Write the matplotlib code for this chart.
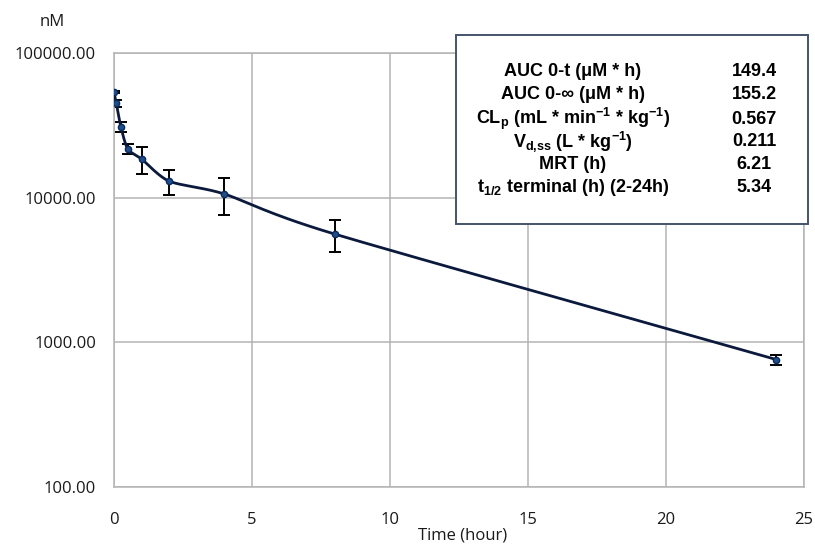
"""PK profile: plasma concentration vs time (log scale) with parameter table."""
import numpy as np
import matplotlib
matplotlib.use("Agg")
import matplotlib.pyplot as plt

# Data
time_h = [0.0, 0.083, 0.25, 0.5, 1.0, 2.0, 4.0, 8.0, 24.0]
conc_nm = [53700, 45000, 30800, 21700, 18500, 13000, 10600, 5600, 760]
conc_sd = [900, 2500, 2300, 1700, 4000, 2500, 3000, 1400, 60]

param_labels = [
    "AUC 0-t (μM * h)",
    "AUC 0-∞ (μM * h)",
    r"CL$_{\mathrm{p}}$ (mL * min$^{\mathrm{-1}}$ * kg$^{\mathrm{-1}}$)",
    r"V$_{\mathrm{d{,}ss}}$ (L * kg$^{\mathrm{-1}}$)",
    "MRT (h)",
    r"t$_{\mathrm{1/2}}$ terminal (h) (2-24h)",
]
param_values = ["149.4", "155.2", "0.567", "0.211", "6.21", "5.34"]

GRID = "#B4B4B4"
LINE = "#0B1A3C"
MARK = "#1F4E8C"
BOX = "#44546A"
INK = "#1A1A1A"

plt.rcParams["mathtext.fontset"] = "custom"
plt.rcParams["mathtext.rm"] = "Liberation Sans:bold"
plt.rcParams["mathtext.default"] = "rm"


def smooth_curve(x, y, ax_w, ax_h, n=30, k=8.0):
    """Excel-style smoothed line (Bezier through points) in display space."""
    px = np.asarray(x) / 25.0 * ax_w
    py = np.log10(y) / 3.0 * ax_h
    pts = np.column_stack([px, py])
    out = []
    for i in range(len(pts) - 1):
        p0 = pts[max(i - 1, 0)]
        p1 = pts[i]
        p2 = pts[i + 1]
        p3 = pts[min(i + 2, len(pts) - 1)]
        c1 = p1 + (p2 - p0) / k
        c2 = p2 - (p3 - p1) / k
        t = np.linspace(0, 1, n)[:, None]
        seg = ((1 - t) ** 3) * p1 + 3 * ((1 - t) ** 2) * t * c1 + 3 * (1 - t) * t ** 2 * c2 + t ** 3 * p2
        out.append(seg if i == 0 else seg[1:])
    out = np.vstack(out)
    return out[:, 0] / ax_w * 25.0, 10 ** (out[:, 1] / ax_h * 3.0)


def main():
    fig = plt.figure(figsize=(8.15, 5.44), dpi=100)
    ax = fig.add_axes([114 / 815, 1 - 487 / 544, 690 / 815, 434 / 544])

    ax.set_yscale("log")
    ax.set_xlim(0, 25)
    ax.set_ylim(100, 100000)

    sx, sy = smooth_curve(time_h, conc_nm, 690, 434)
    ax.plot(sx, sy, color=LINE, linewidth=2.0, zorder=3)
    ax.errorbar(time_h, conc_nm, yerr=conc_sd, fmt="none", ecolor="black",
                elinewidth=1.4, capsize=4, capthick=1.4, zorder=2)
    ax.plot(time_h, conc_nm, "o", markersize=4.5, markerfacecolor=MARK,
            markeredgecolor="#0B2A5C", markeredgewidth=1.0, zorder=4)

    ax.set_xticks([0, 5, 10, 15, 20, 25])
    ax.set_yticks([100, 1000, 10000, 100000])
    ax.set_yticklabels(["100.00", "1000.00", "10000.00", "100000.00"])
    ax.minorticks_off()
    ax.grid(True, color=GRID, linewidth=1.1)
    ax.set_axisbelow(True)
    for s in ax.spines.values():
        s.set_color(GRID)
        s.set_linewidth(1.1)
    ax.tick_params(axis="y", length=0, labelsize=12, colors=INK, pad=13)
    ax.tick_params(axis="x", length=0, labelsize=12, colors=INK, pad=24)
    for lbl in ax.get_xticklabels() + ax.get_yticklabels():
        lbl.set_family("Open Sans")
    for lbl in ax.get_xticklabels():
        lbl.set_va("center")

    fig.text(463 / 815, 1 - 535 / 544, "Time (hour)", family="Open Sans",
             fontsize=12, color=INK, ha="center", va="center")
    fig.text(52 / 815, 1 - 22 / 544, "nM", family="Open Sans", fontsize=12,
             color=INK, ha="center", va="center")

    # Parameter table box
    box = plt.Rectangle((456 / 815, 1 - 224 / 544), 352 / 815, 189 / 544,
                        transform=fig.transFigure, facecolor="white",
                        edgecolor=BOX, linewidth=1.4, zorder=5)
    fig.patches.append(box)
    row_y = [72, 95, 119, 142, 165, 188]
    for lab, val, y in zip(param_labels, param_values, row_y):
        fig.text(573 / 815, 1 - y / 544, lab, family="Liberation Sans",
                 fontweight="bold", fontsize=13, ha="center", va="center",
                 color="black", zorder=6)
        fig.text(754 / 815, 1 - y / 544, val, family="Liberation Sans",
                 fontweight="bold", fontsize=13, ha="center", va="center",
                 color="black", zorder=6)

    fig.savefig("out.png", dpi=100)


if __name__ == "__main__":
    main()
